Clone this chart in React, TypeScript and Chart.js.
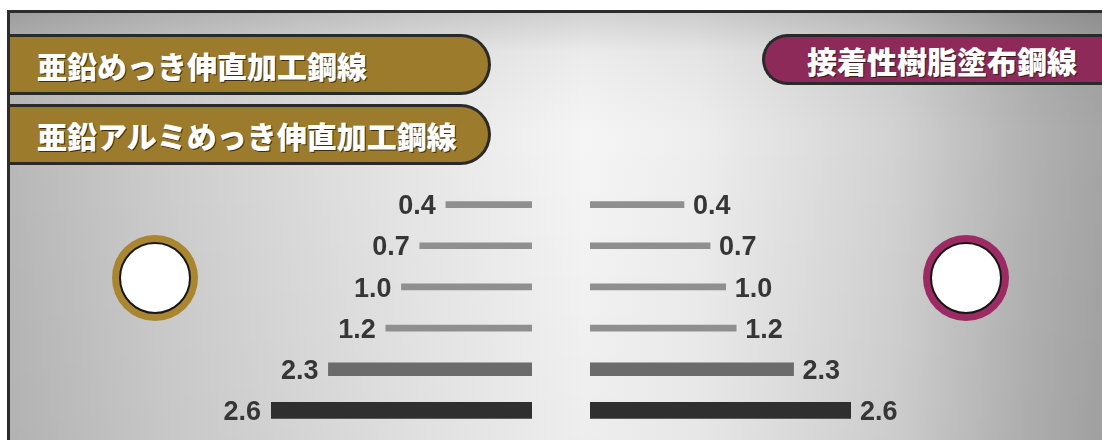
import React, { useEffect, useRef } from "react";
import { Chart, registerables } from "chart.js";

Chart.register(...registerables);

// ---- data ----
const diameters = ["0.4", "0.7", "1.0", "1.2", "2.3", "2.6"];
// relative bar lengths (2.6 mm bar = 100)
const galvanizedLengths = [33, 43, 50, 56, 78, 100];
const resinLengths = [36, 46, 52, 56, 78, 100];
const leftTitles = ["亜鉛めっき伸直加工鋼線", "亜鉛アルミめっき伸直加工鋼線"];
const rightTitle = "接着性樹脂塗布鋼線";

// ---- styles ----
const barColors = ["#8f8f8f", "#8f8f8f", "#8f8f8f", "#8f8f8f", "#6b6b6b", "#2f2f2f"];
const barThickness = [6, 6, 6, 6, 13, 16];
const GOLD = "#9c7b2d";
const GOLD_RING = "#a9862f";
const MAGENTA = "#8e2a59";
const MAGENTA_RING = "#9b2b62";
const LABEL_FONT = "bold 27px 'Liberation Sans', Arial, Helvetica, sans-serif";
const CJK_FONT = "'Noto Sans CJK JP', 'Noto Sans CJK SC', sans-serif";

type Side = "left" | "right";

function WireBars(props: { values: number[]; side: Side; left: number; width: number; pad: number }) {
  const ref = useRef<HTMLCanvasElement | null>(null);
  const { values, side, left, width, pad } = props;
  useEffect(() => {
    const isLeft = side === "left";
    const labelPlugin = {
      id: "diameterLabels",
      afterDatasetsDraw(chart: any) {
        const ctx = chart.ctx as CanvasRenderingContext2D;
        ctx.save();
        ctx.font = LABEL_FONT;
        ctx.fillStyle = "#363636";
        ctx.textAlign = isLeft ? "right" : "left";
        ctx.textBaseline = "alphabetic";
        chart.data.datasets.forEach((_ds: any, i: number) => {
          const el = chart.getDatasetMeta(i).data[i];
          if (!el) return;
          const x = isLeft ? el.x - 10 : el.x + 9;
          ctx.fillText(diameters[i], x, el.y + 9.7);
        });
        ctx.restore();
      },
    };
    const chart = new Chart(ref.current as HTMLCanvasElement, {
      type: "bar",
      data: {
        labels: diameters,
        datasets: diameters.map((d, i) => ({
          label: d,
          data: values.map((v, j) => (j === i ? v : null)),
          backgroundColor: barColors[i],
          barThickness: barThickness[i],
          grouped: false,
          borderWidth: 0,
        })),
      } as any,
      options: {
        indexAxis: "y",
        animation: false,
        responsive: false,
        maintainAspectRatio: false,
        layout: { padding: isLeft ? { left: pad, right: 0, top: 0, bottom: 0 } : { right: pad, left: 0, top: 0, bottom: 0 } },
        scales: {
          x: { display: false, min: 0, max: 100, reverse: isLeft, grid: { display: false } },
          y: { display: false, grid: { display: false } },
        },
        plugins: { legend: { display: false }, tooltip: { enabled: false } },
      } as any,
      plugins: [labelPlugin],
    });
    return () => chart.destroy();
  }, []);
  return (
    <canvas
      ref={ref}
      width={width}
      height={247}
      style={{ position: "absolute", left, top: 184, width, height: 247 }}
    />
  );
}

function Ring(props: { cx: number; cy: number; color: string }) {
  const R = 43;
  const r = 36;
  return (
    <div
      style={{
        position: "absolute",
        left: props.cx - R,
        top: props.cy - R,
        width: R * 2,
        height: R * 2,
        borderRadius: "50%",
        background: props.color,
      }}
    >
      <div
        style={{
          position: "absolute",
          left: R - r,
          top: R - r,
          width: r * 2,
          height: r * 2,
          boxSizing: "border-box",
          borderRadius: "50%",
          background: "#ffffff",
          border: "2px solid #161616",
        }}
      />
    </div>
  );
}

const titleText: React.CSSProperties = {
  fontFamily: CJK_FONT,
  fontWeight: 900,
  fontSize: 30,
  color: "#ffffff",
  whiteSpace: "nowrap",
  lineHeight: 1,
  textShadow: "1px 1px 0 rgba(40,30,10,0.85)",
};

export default function App() {
  return (
    <div
      style={{
        position: "fixed",
        left: 0,
        top: 0,
        width: 1102,
        height: 440,
        overflow: "hidden",
        background: "#ffffff",
      }}
    >
      {/* silver panel with dark frame */}
      <div
        style={{
          position: "absolute",
          left: 7,
          top: 10,
          width: 1110,
          height: 440,
          boxSizing: "border-box",
          borderTop: "3px solid #2c2c2c",
          borderLeft: "3px solid #2c2c2c",
          background:
            "linear-gradient(180deg, rgba(0,0,0,0.14) 0px, rgba(0,0,0,0.04) 40px, rgba(0,0,0,0) 120px, rgba(0,0,0,0.03) 430px), linear-gradient(90deg, #b8b8b8 0%, #cdcdcd 14%, #e6e6e6 36%, #f5f5f5 52%, #eeeeee 62%, #d2d2d2 80%, #b2b2b2 92%, #a2a2a2 100%)",
        }}
      />

      {/* gold badges */}
      {leftTitles.map((t, i) => (
        <div
          key={t}
          style={{
            position: "absolute",
            left: 10,
            top: 34 + i * 70,
            width: 481,
            height: 61,
            boxSizing: "border-box",
            border: "3px solid #2a2a2a",
            borderLeft: "none",
            borderRadius: "0 31px 31px 0",
            background: GOLD,
            display: "flex",
            alignItems: "center",
            paddingLeft: 27,
          }}
        >
          <span style={titleText}>{t}</span>
        </div>
      ))}

      {/* magenta badge */}
      <div
        style={{
          position: "absolute",
          left: 762,
          top: 34,
          width: 360,
          height: 51,
          boxSizing: "border-box",
          border: "3px solid #2a2a2a",
          borderRight: "none",
          borderRadius: "26px 0 0 26px",
          background: MAGENTA,
          display: "flex",
          alignItems: "center",
          paddingLeft: 42,
        }}
      >
        <span style={titleText}>{rightTitle}</span>
      </div>

      <Ring cx={155} cy={278} color={GOLD_RING} />
      <Ring cx={966} cy={278} color={MAGENTA_RING} />

      <WireBars values={galvanizedLengths} side="left" left={180} width={352} pad={91} />
      <WireBars values={resinLengths} side="right" left={590} width={321} pad={60} />
    </div>
  );
}
